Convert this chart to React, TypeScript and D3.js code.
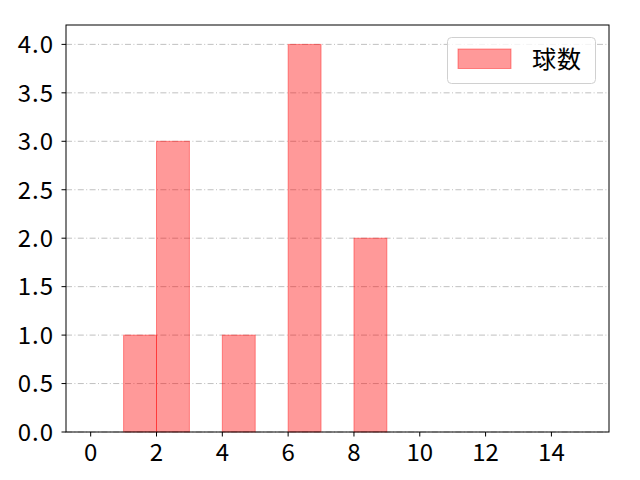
import React from "react";
import * as d3 from "d3";

const binStarts = [0, 1, 2, 3, 4, 5, 6, 7, 8, 9, 10, 11, 12, 13, 14];
const counts = [0, 1, 3, 0, 1, 0, 4, 0, 2, 0, 0, 0, 0, 0, 0];
const xTicks = [0, 2, 4, 6, 8, 10, 12, 14];
const yTicks = [0, 0.5, 1, 1.5, 2, 2.5, 3, 3.5, 4];
const seriesName = "球数";

const W = 640, H = 480;
const L = 66, R = 609, T = 25, B = 432;
const FONT = "'Noto Sans CJK JP', 'Noto Sans', sans-serif";

export default function App() {
  const x = d3.scaleLinear().domain([-0.75, 15.75]).range([L, R]);
  const y = d3.scaleLinear().domain([0, 4.2]).range([B, T]);
  return (
    <svg width={W} height={H} style={{ position: "absolute", left: 0, top: 0, background: "#fff" }} fontFamily={FONT}>
      <rect x={0} y={0} width={W} height={H} fill="#fff" />
      {yTicks.map((t) => (
        <line key={"g" + t} x1={L} x2={R} y1={y(t)} y2={y(t)} stroke="#b0b0b0" strokeWidth={0.8} strokeDasharray="6,2.4,1,2.4" />
      ))}
      {binStarts.map((s, i) => (
        <rect key={"b" + i} x={x(s)} y={y(counts[i])} width={x(s + 1) - x(s)} height={B - y(counts[i])}
          fill="rgba(255,0,0,0.4)" stroke="rgba(255,0,0,0.4)" strokeWidth={1} />
      ))}
      <rect x={L} y={T} width={R - L} height={B - T} fill="none" stroke="#000" strokeWidth={1} />
      {xTicks.map((t) => (
        <g key={"x" + t}>
          <line x1={x(t)} x2={x(t)} y1={B} y2={B + 4.5} stroke="#000" />
          <text x={x(t)} y={B + 29} textAnchor="middle" fontSize={24} fill="#000">{t}</text>
        </g>
      ))}
      {yTicks.map((t) => (
        <g key={"y" + t}>
          <line x1={L - 4.5} x2={L} y1={y(t)} y2={y(t)} stroke="#000" />
          <text x={L - 12} y={y(t) + 8.8} textAnchor="end" fontSize={24} letterSpacing={1} fill="#000">{t.toFixed(1)}</text>
        </g>
      ))}
      <rect x={447.5} y={37.5} width={148} height={46} rx={4} fill="rgba(255,255,255,0.8)" stroke="#d0d0d0" />
      <rect x={458} y={49} width={53} height={19.5} fill="rgba(255,0,0,0.4)" stroke="rgba(255,0,0,0.4)" />
      <text x={532} y={68} fontSize={24} letterSpacing={1} fill="#000">{seriesName}</text>
    </svg>
  );
}
